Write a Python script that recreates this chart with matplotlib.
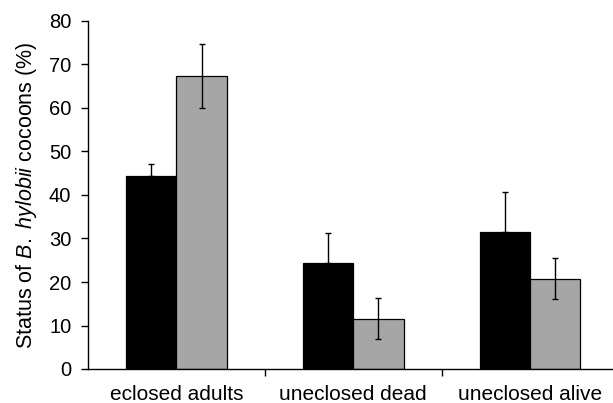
import numpy as np
import matplotlib.pyplot as plt
from matplotlib.ticker import FixedLocator, NullFormatter

plt.rcParams["font.family"] = ["Liberation Sans", "DejaVu Sans"]
plt.rcParams["mathtext.fontset"] = "custom"
plt.rcParams["mathtext.rm"] = "Liberation Sans"
plt.rcParams["mathtext.it"] = "Liberation Sans:italic"

categories = ["eclosed adults", "uneclosed dead", "uneclosed alive"]
black_values = [44.4, 24.3, 31.4]
black_err = [2.8, 7.0, 9.4]
gray_values = [67.4, 11.6, 20.8]
gray_err = [7.3, 4.8, 4.7]

W, H = 613, 403
fig = plt.figure(figsize=(W / 100, H / 100), dpi=100)
ax = fig.add_axes([88 / W, 34 / H, 3 * 176.8 / W, 348 / H])

x = np.arange(len(categories))
width = 0.285

ax.bar(x - width / 2, black_values, width, color="black", edgecolor="black", linewidth=0.9)
ax.bar(x + width / 2, gray_values, width, color="#a6a6a6", edgecolor="black", linewidth=0.9)

ax.errorbar(x - width / 2, black_values, yerr=[np.zeros(3), black_err], fmt="none",
            ecolor="black", elinewidth=1.0, capsize=2.3, capthick=1.0)
ax.errorbar(x + width / 2, gray_values, yerr=gray_err, fmt="none",
            ecolor="black", elinewidth=1.0, capsize=2.3, capthick=1.0)

ax.set_xlim(-0.5, 2.5)
ax.set_ylim(0, 80)
ax.set_yticks(np.arange(0, 81, 10))

ax.xaxis.set_major_locator(FixedLocator([0.5, 1.5]))
ax.xaxis.set_major_formatter(NullFormatter())
ax.xaxis.set_minor_locator(FixedLocator(x))
ax.set_xticklabels(categories, minor=True)
ax.tick_params(axis="x", which="major", direction="out", length=5, width=1.0)
ax.tick_params(axis="x", which="minor", length=0, pad=11.5, labelsize=15)
ax.tick_params(axis="y", direction="out", length=5, width=1.0, pad=7, labelsize=14.5)

for side in ["top", "right"]:
    ax.spines[side].set_visible(False)
for side in ["left", "bottom"]:
    ax.spines[side].set_linewidth(1.0)

ax.set_ylabel(r"Status of $B.\ hylobii$ cocoons (%)", fontsize=15.5, labelpad=7)

fig.savefig("out.png", dpi=100)
